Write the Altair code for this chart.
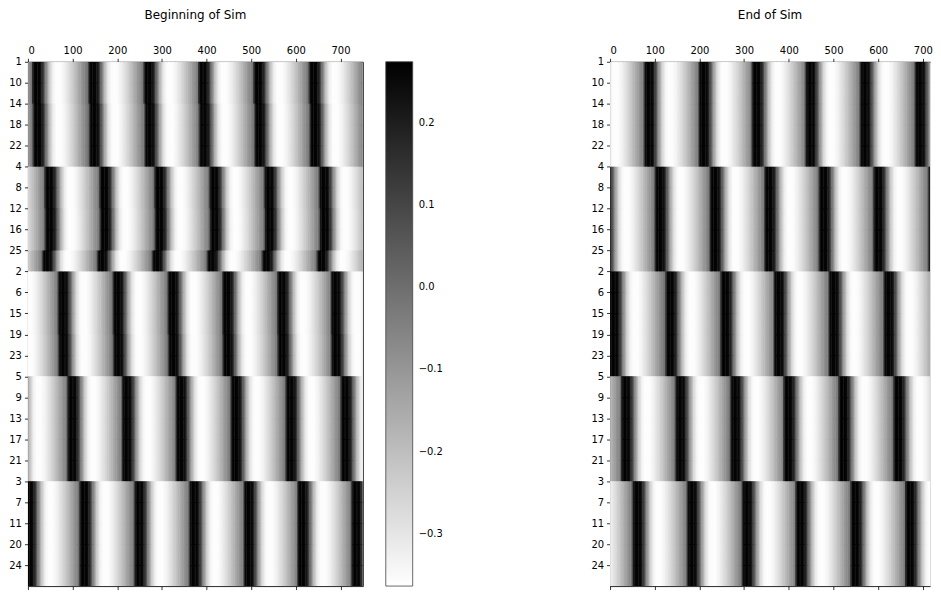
import json
import altair as alt
import numpy as np
import pandas as pd

alt.data_transformers.disable_max_rows()

# Neuron labels, top to bottom (5 groups of 5)
NEURONS = ["1", "10", "14", "18", "22",
           "4", "8", "12", "16", "25",
           "2", "6", "15", "19", "23",
           "5", "9", "13", "17", "21",
           "3", "7", "11", "20", "24"]

# Spike onset times (time steps) per group of 5 neurons
BEGIN_ONSETS = [
    [8, 134, 258, 380, 504, 628],
    [36, 159, 282, 405, 528, 651],
    [66, 189, 312, 434, 557, 677],
    [87, 209, 330, 453, 576, 699],
    [-9, 114, 237, 360, 482, 602, 723],
]
# small per-neuron lag at the beginning of the simulation
BEGIN_ROW_SHIFT = [0, 0, 2, 2, 2,
                   0, 0, 1, 1, -5,
                   0, 0, 0, 1, 1,
                   0, 0, 0, 0, 0,
                   0, 0, 0, 0, 0]
END_ONSETS = [
    [75, 197, 316, 436, 558, 681],
    [99, 222, 344, 466, 588, 711],
    [-3, 123, 246, 365, 488, 611],
    [23, 145, 268, 387, 510, 633],
    [49, 171, 294, 414, 537, 659],
]
END_ROW_SHIFT = [0] * 25

# one cycle of the signal, value vs. steps since spike onset
PROFILE_PHASE = [0, 2, 4, 7, 19, 23, 27, 31, 36, 42, 48, 54, 64, 74, 84, 96, 108, 118, 124, 132, 142]
PROFILE_VALUE = [0.02, 0.15, 0.24, 0.27, 0.26, 0.20, 0.10, -0.02, -0.14, -0.26, -0.33, -0.36,
                 -0.36, -0.33, -0.28, -0.21, -0.13, -0.06, -0.02, 0.01, 0.03]
PERIOD = 122

BEGIN_T_END = 750
END_T_END = 716   # the right panel is cut off at the picture's edge
STEP = 3

COLOR_MIN, COLOR_MAX = -0.364, 0.275
CBAR_VALUES = [-0.3, -0.2, -0.1, 0.0, 0.1, 0.2]
X_TICKS = [0, 100, 200, 300, 400, 500, 600, 700]

PLOT_H = 526


def heat_df(onsets_by_group, shifts, t_end):
    recs = []
    for r in range(len(NEURONS)):
        ons = [o + shifts[r] for o in onsets_by_group[r // 5]]
        ons = [ons[0] - PERIOD] + ons
        for t in range(0, t_end, STEP):
            tc = t + STEP / 2
            last = max(o for o in ons if o <= tc)
            v = float(np.interp(tc - last, PROFILE_PHASE, PROFILE_VALUE))
            recs.append({"t": t, "t2": min(t + STEP + 1, t_end), "row": r, "v": round(v, 4)})
    return pd.DataFrame(recs)


FONT = "DejaVu Sans"
cscale = alt.Scale(domain=[COLOR_MIN, COLOR_MAX], range=["#ffffff", "#000000"], interpolate="rgb")
yscale = alt.Scale(domain=[0, 25], reverse=True, nice=False, zero=False)
label_expr = json.dumps(NEURONS) + "[datum.value]"

axis_common = dict(grid=False, title=None, tickSize=3.5, tickColor="black", tickWidth=0.8,
                   domainColor="black", domainWidth=0.8, labelColor="black",
                   labelFont=FONT, labelFontSize=10, labelPadding=3)


def panel(df, t_end, width, title, with_legend, right_spine):
    xscale = alt.Scale(domain=[0, t_end], nice=False, zero=False)
    if with_legend:
        legend = alt.Legend(title=None, orient="right", offset=23, gradientLength=PLOT_H,
                            gradientThickness=27, values=CBAR_VALUES, format=".1f",
                            labelFont=FONT, labelFontSize=10, labelColor="black",
                            labelOffset=6, gradientStrokeColor="#444", type="gradient",
                            gradientStrokeWidth=0.8, labelOverlap=False,
                            direction="vertical", padding=0)
    else:
        legend = None
    heat = alt.Chart(df).transform_calculate(
        row2="datum.row + 1.04"
    ).mark_rect(clip=True).encode(
        x=alt.X("t:Q", scale=xscale,
                axis=alt.Axis(orient="top", values=X_TICKS, labelAngle=0, **axis_common)),
        x2="t2:Q",
        y=alt.Y("row:Q", scale=yscale,
                axis=alt.Axis(orient="left", values=list(range(25)), labelExpr=label_expr,
                              **axis_common)),
        y2="row2:Q",
        color=alt.Color("v:Q", scale=cscale, legend=legend),
    )
    frame_df = pd.DataFrame({"t": [0], "row": [0]})
    frame = alt.Chart(frame_df).mark_point(opacity=0).encode(
        x=alt.X("t:Q", scale=xscale,
                axis=alt.Axis(orient="bottom", values=X_TICKS, labels=False, **axis_common)),
        y=alt.Y("row:Q", scale=yscale,
                axis=(alt.Axis(orient="right", ticks=False, labels=False, **axis_common)
                      if right_spine else None)),
    )
    return alt.layer(heat, frame).resolve_axis(x="independent", y="independent").properties(
        width=width, height=PLOT_H,
        title=alt.TitleParams(title, font=FONT, fontSize=12, fontWeight="normal",
                              color="black", anchor="middle", frame="group", offset=23),
    )


left = panel(heat_df(BEGIN_ONSETS, BEGIN_ROW_SHIFT, BEGIN_T_END), BEGIN_T_END, 336,
             "Beginning of Sim", True, True)
right = panel(heat_df(END_ONSETS, END_ROW_SHIFT, END_T_END), END_T_END, 321,
              "End of Sim", False, False)

chart = alt.hconcat(left, right, spacing=146).resolve_scale(
    color="independent"
).properties(
    padding={"left": 0, "top": 0, "right": 0, "bottom": 0}
).configure_view(stroke=None).configure(font=FONT)

chart.save("out.html", embed_options={"renderer": "svg", "actions": False})
